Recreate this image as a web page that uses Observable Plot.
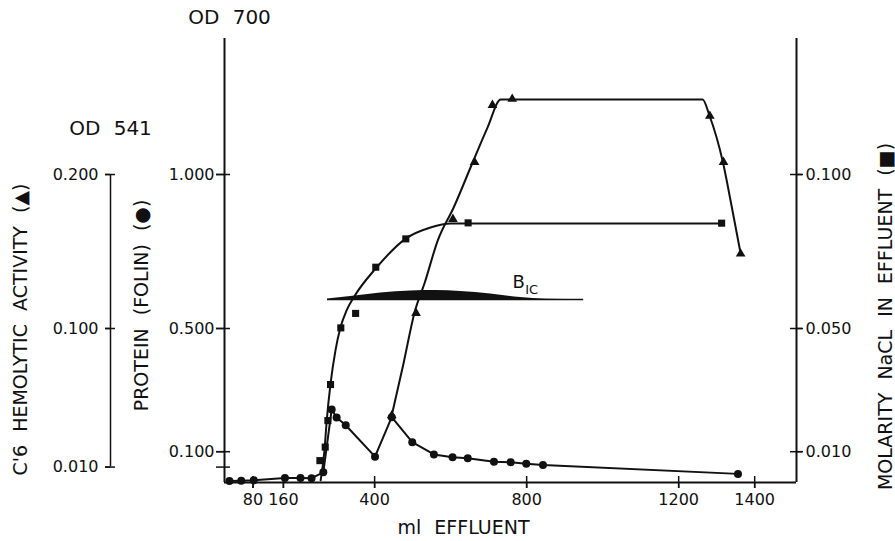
<!DOCTYPE html>
<html><head><meta charset="utf-8">
<script src="https://cdn.jsdelivr.net/npm/d3@7"></script>
<script src="https://cdn.jsdelivr.net/npm/@observablehq/plot@0.6"></script>
<style>
body{margin:0;background:#fff}
svg{display:block}
svg text{word-spacing:7px}
</style>
</head><body><div id="chart"></div>
<script>
// ---- tick values ----
const xTicks = [80, 160, 400, 800, 1200, 1400];
const proteinTicks = [0.1, 0.5, 1.0];
const proteinMinorTicks = [0.05];
const hemolyticTicks = [0.01, 0.1, 0.2];
const naclTicks = [0.01, 0.05, 0.1];

// ---- protein (Folin, OD 700), circles ----
const proteinMl = [18, 49, 82, 164, 205, 234, 265, 287, 300, 324, 401, 445, 499, 556, 605, 645, 714, 758, 799, 843, 1356];
const proteinOD = [0.005, 0.006, 0.007, 0.015, 0.015, 0.014, 0.033, 0.237, 0.211, 0.186, 0.084, 0.212, 0.131, 0.091, 0.082, 0.079, 0.067, 0.066, 0.061, 0.057, 0.028];

// ---- molarity NaCl, squares ----
const naclMl = [256, 270, 277, 284, 311, 350, 403, 482, 646, 1313];
const naclM = [0.0071, 0.0115, 0.0201, 0.0318, 0.0502, 0.0549, 0.0699, 0.0791, 0.0843, 0.0842];
// hand-drawn smooth curve through the NaCl points
const naclCurveMl = [258, 268, 274, 284, 297, 310, 326, 345, 403, 482, 547, 600, 1313];
const naclCurveM = [0.0007, 0.0104, 0.0201, 0.0321, 0.0429, 0.0503, 0.0558, 0.0601, 0.0695, 0.0792, 0.0828, 0.0841, 0.0841];

// ---- C'6 hemolytic activity (OD 541), triangles ----
const hemoMl = [445, 509, 606, 663, 710, 762, 1282, 1318, 1363];
const hemoOD = [0.0435, 0.110, 0.171, 0.208, 0.245, 0.249, 0.238, 0.208, 0.1485];
const hemoCurveMl = [445, 476, 505, 532, 566, 608, 660, 697, 732, 1263, 1281, 1316, 1339, 1363];
const hemoCurveOD = [0.0435, 0.0773, 0.1104, 0.1299, 0.1571, 0.1786, 0.2091, 0.2305, 0.2487, 0.2487, 0.2383, 0.2084, 0.1799, 0.1487];

// ---- B1c band (protein scale) ----
const bandMl = [276, 337, 416, 495, 561, 626, 705, 784, 850, 950];
const bandTop = [0.5958, 0.6039, 0.6153, 0.6218, 0.6234, 0.6201, 0.6120, 0.6006, 0.5958, 0.5948];
const bandBase = 0.5905;

// scale factors mapping each series onto the shared (protein) y scale
const hemoFactor = 5;
const naclFactor = 10;

const ink = "#111";
const fmt3 = d3.format(".3f");

const protein = proteinMl.map((x, i) => ({x, y: proteinOD[i]}));
const nacl = naclMl.map((x, i) => ({x, y: naclM[i] * naclFactor}));
const naclCurve = naclCurveMl.map((x, i) => ({x, y: naclCurveM[i] * naclFactor}));
const hemo = hemoMl.map((x, i) => ({x, y: hemoOD[i] * hemoFactor}));
const hemoCurve = hemoCurveMl.map((x, i) => ({x, y: hemoCurveOD[i] * hemoFactor}));
const band = bandMl.map((x, i) => ({x, y1: bandBase, y2: bandTop[i]}));

const xMin = 5, xMax = 1510;
const titleFont = 19;

const chart = Plot.plot({
  width: 895, height: 541,
  marginLeft: 224, marginRight: 99, marginTop: 38, marginBottom: 59,
  x: {domain: [xMin, xMax]},
  y: {domain: [0, 1.4416]},
  style: {fontFamily: "DejaVu Sans", fontSize: "16px", color: ink, background: "#fff"},
  marks: [
    // frame: left, right, bottom
    Plot.ruleX([xMin, xMax], {stroke: ink, strokeWidth: 2}),
    Plot.ruleY([0], {stroke: ink, strokeWidth: 2}),

    // x axis
    Plot.axisX({ticks: xTicks, tickSize: 6, tickPadding: 5, tickFormat: d => String(d), label: null, fontSize: 16, stroke: ink, strokeWidth: 1.5}),
    Plot.ruleX(xTicks, {x: d => d, y1: 0, y2: 0, insetTop: -6, insetBottom: -6, stroke: ink, strokeWidth: 1.5}),

    // main left axis: protein (Folin), OD 700
    Plot.axisY({ticks: proteinTicks, anchor: "left", tickSize: 8, tickPadding: 2, tickFormat: fmt3, label: null, fontSize: 16, strokeWidth: 1.5}),
    Plot.ruleY(proteinTicks.concat(proteinMinorTicks), {y: d => d, x1: xMin, x2: xMin, insetLeft: -8, insetRight: -6, stroke: ink, strokeWidth: 1.5}),

    // far-left axis: C'6 hemolytic activity, OD 541
    Plot.ruleX([xMin], {y1: hemolyticTicks[0] * hemoFactor, y2: hemolyticTicks[2] * hemoFactor, dx: -114, stroke: ink, strokeWidth: 1.5}),
    Plot.axisY({ticks: hemolyticTicks.map(d => d * hemoFactor), anchor: "left", dx: -114, tickSize: 5, tickPadding: 7, tickFormat: d => fmt3(d / hemoFactor), label: null, fontSize: 16, strokeWidth: 1.5}),
    Plot.ruleY(hemolyticTicks, {y: d => d * hemoFactor, x1: xMin, x2: xMin, dx: -114, insetLeft: -5, insetRight: -5, stroke: ink, strokeWidth: 1.5}),

    // right axis: molarity NaCl
    Plot.axisY({ticks: naclTicks.map(d => d * naclFactor), anchor: "right", tickSize: 6, tickPadding: 3, tickFormat: d => fmt3(d / naclFactor), label: null, fontSize: 16, strokeWidth: 1.5}),
    Plot.ruleY(naclTicks, {y: d => d * naclFactor, x1: xMax, x2: xMax, insetLeft: -6, insetRight: -6, stroke: ink, strokeWidth: 1.5}),

    // B1c band
    Plot.areaY(band, {x: "x", y1: "y1", y2: "y2", fill: ink, curve: "monotone-x"}),
    Plot.text(["B"], {x: 779, y: 0.649, fontSize: 18, fill: ink}),
    Plot.text(["IC"], {x: 813, y: 0.627, fontSize: 13, fill: ink}),

    // NaCl curve + squares
    Plot.line(naclCurve, {x: "x", y: "y", stroke: ink, strokeWidth: 2, curve: "monotone-x"}),
    Plot.dot(nacl, {x: "x", y: "y", symbol: "square", r: 4, fill: ink, stroke: "none"}),

    // hemolytic curve + triangles
    Plot.line(hemoCurve, {x: "x", y: "y", stroke: ink, strokeWidth: 2, curve: "monotone-x"}),
    Plot.dot(hemo, {x: "x", y: "y", symbol: "triangle", r: 3.6, fill: ink, stroke: "none"}),

    // protein line + circles
    Plot.line(protein, {x: "x", y: "y", stroke: ink, strokeWidth: 2}),
    Plot.dot(protein, {x: "x", y: "y", r: 4, fill: ink, stroke: "none"}),

    // titles
    Plot.text(["OD 700"], {frameAnchor: "top-left", dx: 5, dy: -21, fontSize: 20, textAnchor: "middle", lineAnchor: "middle", fill: ink}),
    Plot.text(["OD 541"], {frameAnchor: "top-left", dx: -114, dy: 90, fontSize: 20, textAnchor: "middle", lineAnchor: "middle", fill: ink}),
    Plot.text(["C'6 HEMOLYTIC ACTIVITY (▲)"], {frameAnchor: "top-left", dx: -204, dy: 291, rotate: -90, fontSize: titleFont, textAnchor: "middle", lineAnchor: "middle", fill: ink}),
    Plot.text(["PROTEIN (FOLIN) (●)"], {frameAnchor: "top-left", dx: -83, dy: 267, rotate: -90, fontSize: titleFont, textAnchor: "middle", lineAnchor: "middle", fill: ink}),
    Plot.text(["MOLARITY NaCL IN EFFLUENT (■)"], {frameAnchor: "top-right", dx: 89, dy: 278, rotate: -90, fontSize: titleFont, textAnchor: "middle", lineAnchor: "middle", fill: ink}),
    Plot.text(["ml EFFLUENT"], {frameAnchor: "bottom-left", dx: 239, dy: 45, fontSize: titleFont, textAnchor: "middle", lineAnchor: "middle", fill: ink})
  ]
});
document.getElementById("chart").appendChild(chart);
</script>
</body></html>
